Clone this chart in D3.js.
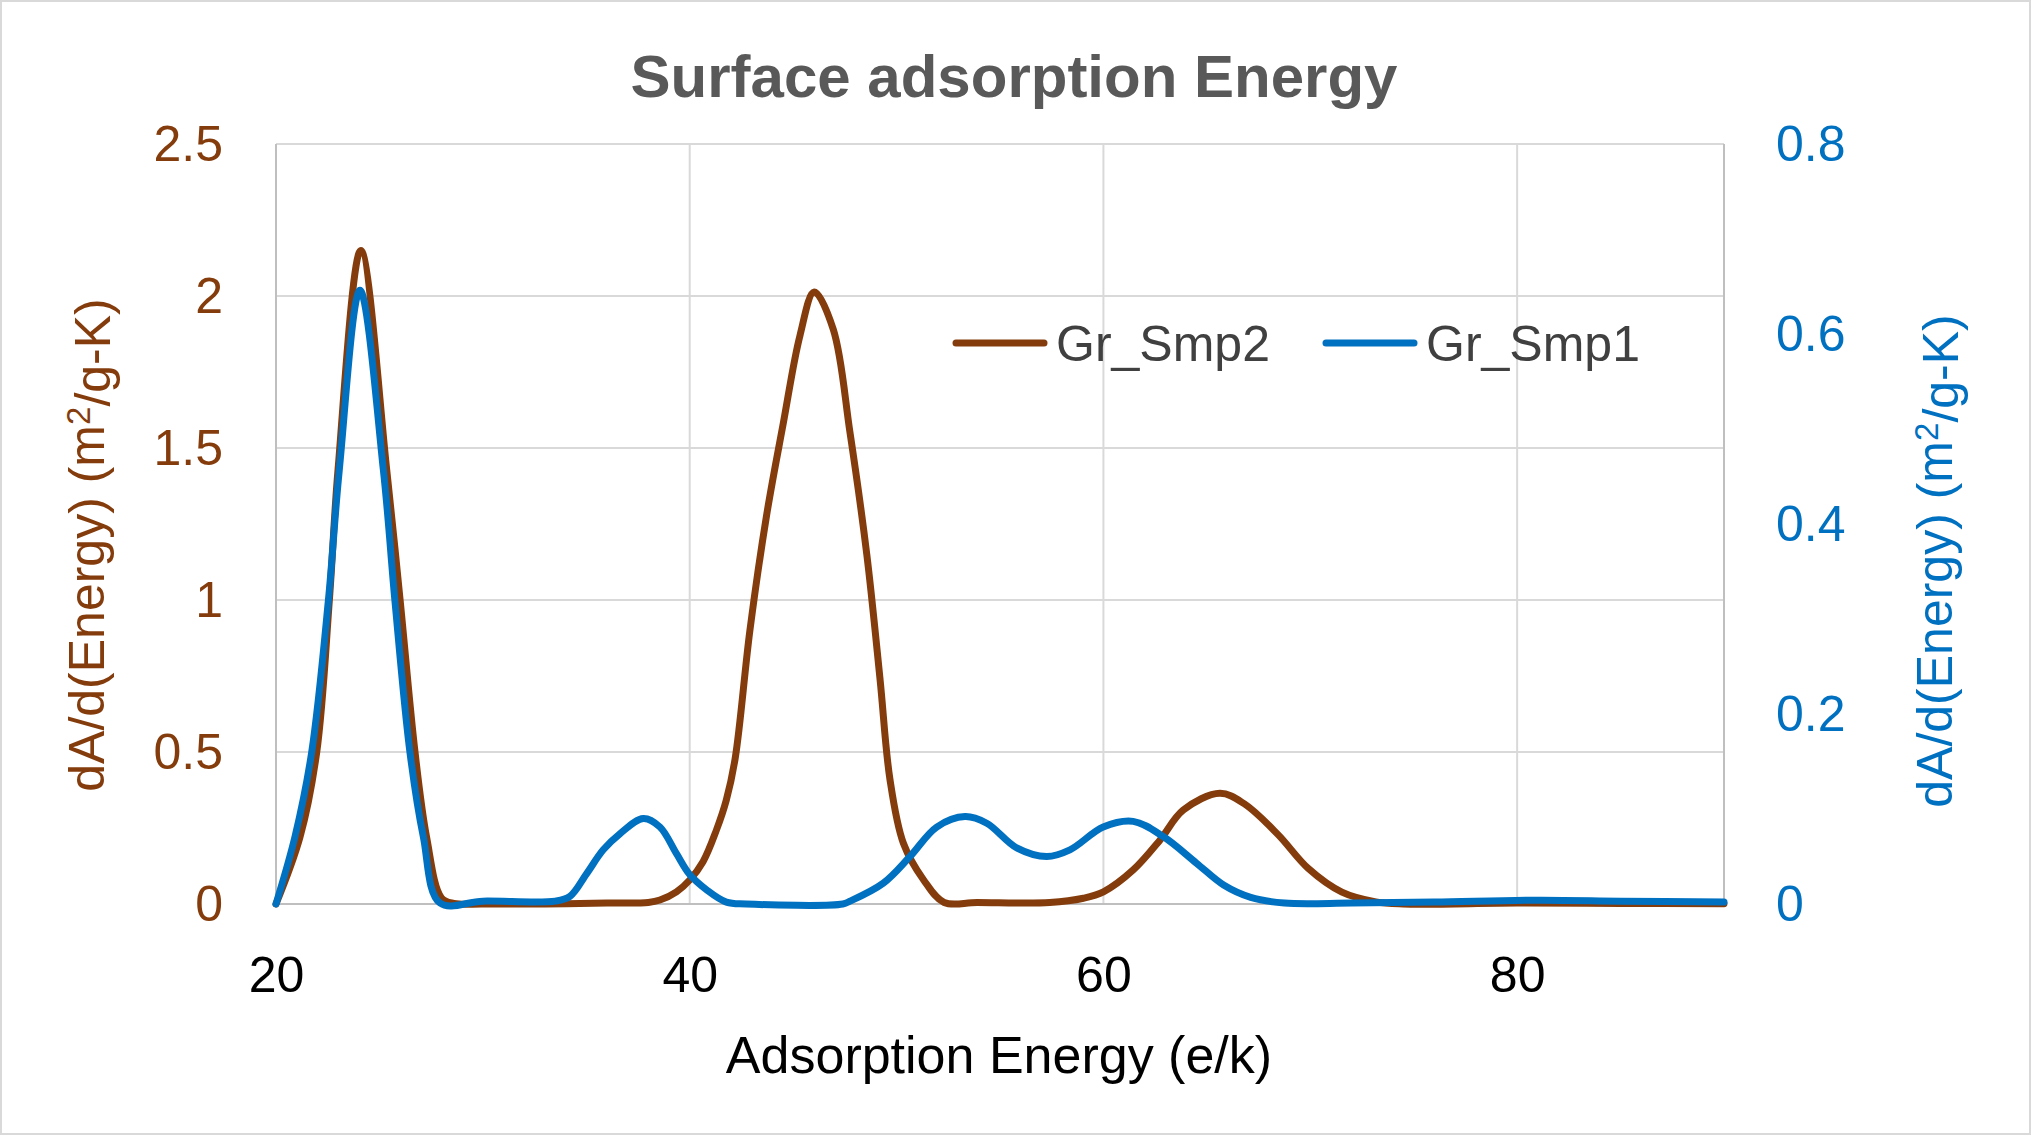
<!DOCTYPE html>
<html>
<head>
<meta charset="utf-8">
<script src="https://cdn.jsdelivr.net/npm/d3@7"></script>
<style>
  html, body { margin: 0; padding: 0; background: #fff; }
  svg { display: block; }
  .tick line { display: none; }
  .domain { display: none; }
</style>
</head>
<body>
<svg id="chart" width="2031" height="1135"></svg>
<script>
// Gr_Smp2 (left axis)
const smp2X = [20, 21.16, 21.97, 22.58, 23.0, 24.1, 25.35, 26.0, 26.72, 27.28, 28.0, 28.6,
  30, 33, 36, 38, 38.56, 39.36, 40.0, 40.65, 41.29, 41.77, 42.2, 42.91, 43.72, 44.52, 45.33, 46.02,
  46.94, 47.75, 48.56, 49.2, 49.68, 50.33, 51.3, 52.3, 53.9, 57.4, 59.03, 60.0, 61.44, 62.73, 63.86,
  65.63, 66.8, 68.43, 69.9, 71.53, 73.17, 74.5, 80, 85, 90];
const smp2Y = [0, 0.22, 0.5, 1.0, 1.43, 2.15, 1.43, 1.0, 0.5, 0.22, 0.02, 0.002,
  0, 0, 0.003, 0.005, 0.013, 0.04, 0.079, 0.14, 0.243, 0.342, 0.48, 0.9, 1.28, 1.58, 1.87, 2.013,
  1.89, 1.55, 1.15, 0.74, 0.41, 0.2, 0.08, 0.005, 0.005, 0.005, 0.019, 0.04, 0.112, 0.21, 0.309,
  0.364, 0.33, 0.229, 0.117, 0.039, 0.007, 0, 0.003, 0.002, 0.001];

// Gr_Smp1 (right axis)
const smp1X = [20, 20.92, 21.72, 22.53, 23.06, 24.06, 25.19, 25.75, 26.48, 27.12, 27.93,
  30, 33.5, 34.21, 35.02, 35.82, 36.63, 37.76, 38.56, 39.36, 40.0, 40.81, 41.77, 42.74, 47.4, 47.75,
  49.36, 50.65, 51.94, 53.31, 54.36, 55.81, 57.26, 58.38, 59.99, 61.44, 62.89, 64.5, 65.81, 67.12,
  68.75, 72, 76, 81, 85, 90];
const smp1Y = [0, 0.071, 0.159, 0.319, 0.457, 0.646, 0.457, 0.319, 0.159, 0.071, 0.001,
  0.003, 0.003, 0.008, 0.032, 0.057, 0.074, 0.09, 0.081, 0.053, 0.031, 0.015, 0.002, 0, 0, 0.003,
  0.022, 0.05, 0.081, 0.092, 0.085, 0.059, 0.05, 0.057, 0.081, 0.087, 0.071, 0.043, 0.02, 0.007,
  0.001, 0.001, 0.002, 0.004, 0.003, 0.002];

const xTicks = [20, 40, 60, 80];
const leftTicks = [0, 0.5, 1, 1.5, 2, 2.5];
const rightTicks = [0, 0.2, 0.4, 0.6, 0.8];

const brown = '#843C0C';
const blue = '#0070C0';
const font = '"Liberation Sans", Arial, sans-serif';

const svg = d3.select('#chart');
const margin = { top: 144, right: 307, bottom: 231, left: 276 };
const W = 2031, H = 1135;

svg.append('rect')
    .attr('x', 1).attr('y', 1)
    .attr('width', W - 2).attr('height', H - 2)
    .attr('fill', '#fff')
    .attr('stroke', '#D9D9D9')
    .attr('stroke-width', 2);

const x = d3.scaleLinear().domain([20, 90]).range([margin.left, W - margin.right]);
const yL = d3.scaleLinear().domain([0, 2.5]).range([H - margin.bottom, margin.top]);
const yR = d3.scaleLinear().domain([0, 0.8]).range([H - margin.bottom, margin.top]);

// gridlines
svg.append('g')
    .selectAll('line')
    .data(leftTicks.filter(d => d > 0))
    .enter()
    .append('line')
    .attr('x1', x(20)).attr('x2', x(90))
    .attr('y1', d => yL(d)).attr('y2', d => yL(d))
    .attr('stroke', '#D9D9D9')
    .attr('stroke-width', 2);

svg.append('g')
    .selectAll('line')
    .data(xTicks.filter(d => d > 20))
    .enter()
    .append('line')
    .attr('x1', d => x(d)).attr('x2', d => x(d))
    .attr('y1', yL(0)).attr('y2', yL(2.5))
    .attr('stroke', '#D9D9D9')
    .attr('stroke-width', 2);

// axis lines
const axisCol = '#BFBFBF';
svg.append('line')
    .attr('x1', x(20)).attr('x2', x(20)).attr('y1', yL(0)).attr('y2', yL(2.5))
    .attr('stroke', axisCol).attr('stroke-width', 2);
svg.append('line')
    .attr('x1', x(90)).attr('x2', x(90)).attr('y1', yL(0)).attr('y2', yL(2.5))
    .attr('stroke', axisCol).attr('stroke-width', 2);
svg.append('line')
    .attr('x1', x(20)).attr('x2', x(90)).attr('y1', yL(0)).attr('y2', yL(0))
    .attr('stroke', axisCol).attr('stroke-width', 2);

// tick labels
const xAxis = svg.append('g')
    .attr('transform', `translate(0,${yL(0)})`)
    .call(d3.axisBottom(x).tickValues(xTicks).tickSize(0).tickPadding(52).tickFormat(d3.format('d')));
xAxis.selectAll('text')
    .style('font-family', font).style('font-size', '50px').attr('fill', '#000');

const leftAxis = svg.append('g')
    .attr('transform', `translate(${x(20) - 53},0)`)
    .call(d3.axisLeft(yL).tickValues(leftTicks).tickSize(0).tickPadding(0).tickFormat(d => d));
leftAxis.selectAll('text')
    .style('font-family', font).style('font-size', '50px').attr('fill', brown);

const rightAxis = svg.append('g')
    .attr('transform', `translate(${x(90) + 52},0)`)
    .call(d3.axisRight(yR).tickValues(rightTicks).tickSize(0).tickPadding(0).tickFormat(d => d));
rightAxis.selectAll('text')
    .style('font-family', font).style('font-size', '50px').attr('fill', blue);

// series
const curve = d3.curveCatmullRom.alpha(0.5);

const lineL = d3.line()
    .x((d, i) => x(smp2X[i]))
    .y(d => yL(d))
    .curve(curve);

const lineR = d3.line()
    .x((d, i) => x(smp1X[i]))
    .y(d => yR(d))
    .curve(curve);

svg.append('path')
    .attr('d', lineL(smp2Y))
    .attr('fill', 'none')
    .attr('stroke', brown)
    .attr('stroke-width', 7)
    .attr('stroke-linejoin', 'round')
    .attr('stroke-linecap', 'round');

svg.append('path')
    .attr('d', lineR(smp1Y))
    .attr('fill', 'none')
    .attr('stroke', blue)
    .attr('stroke-width', 7)
    .attr('stroke-linejoin', 'round')
    .attr('stroke-linecap', 'round');

// title
svg.append('text')
    .attr('x', 1014).attr('y', 97)
    .attr('text-anchor', 'middle')
    .style('font-family', font).style('font-size', '60px').style('font-weight', 'bold')
    .attr('fill', '#595959')
    .text('Surface adsorption Energy');

// x axis title
svg.append('text')
    .attr('x', 999).attr('y', 1073)
    .attr('text-anchor', 'middle')
    .style('font-family', font).style('font-size', '52px')
    .attr('fill', '#000')
    .text('Adsorption Energy (e/k)');

// y axis titles
function yTitle(cx, cy, color) {
    const t = svg.append('text')
        .attr('transform', `translate(${cx},${cy}) rotate(-90)`)
        .attr('text-anchor', 'middle')
        .attr('dy', '0.35em')
        .style('font-family', font).style('font-size', '50px')
        .attr('fill', color);
    t.append('tspan').text('dA/d(Energy) (m');
    t.append('tspan').attr('dy', '-0.4em').style('font-size', '33px').text('2');
    t.append('tspan').attr('dy', '0.4em').text('/g-K)');
}
yTitle(86, 545, brown);
yTitle(1934, 561, blue);

// legend
const legend = [
    { name: 'Gr_Smp2', color: brown, x0: 956 },
    { name: 'Gr_Smp1', color: blue, x0: 1326 }
];
const lg = svg.append('g');
lg.selectAll('line')
    .data(legend)
    .enter()
    .append('line')
    .attr('x1', d => d.x0).attr('x2', d => d.x0 + 88)
    .attr('y1', 343).attr('y2', 343)
    .attr('stroke', d => d.color)
    .attr('stroke-width', 7)
    .attr('stroke-linecap', 'round');
lg.selectAll('text')
    .data(legend)
    .enter()
    .append('text')
    .attr('x', d => d.x0 + 100)
    .attr('y', 343)
    .attr('dy', '0.35em')
    .style('font-family', font).style('font-size', '50px')
    .attr('fill', '#404040')
    .text(d => d.name);
</script>
</body>
</html>
